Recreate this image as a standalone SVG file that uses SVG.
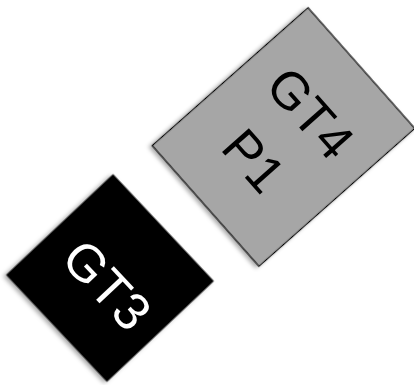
<svg xmlns="http://www.w3.org/2000/svg" width="414" height="385" viewBox="0 0 414 385">
  <defs>
    <filter id="sh" x="-20%" y="-20%" width="140%" height="140%">
      <feDropShadow dx="-1" dy="3" stdDeviation="2" flood-color="#000" flood-opacity="0.35"/>
    </filter>
  </defs>
  <style>
    .lbl { font-family: "Liberation Sans", Arial, sans-serif; font-size: 52px; text-anchor: middle; }
  </style>
  <rect width="414" height="385" fill="#ffffff"/>
  <g id="connectors"></g>
  <g id="gt4" transform="translate(283.5,137) rotate(48.5)">
    <rect x="-80.5" y="-104" width="161" height="208" fill="#a6a6a6" stroke="#000" stroke-width="1.2" filter="url(#sh)"/>
    <text class="lbl" x="0" y="-18" fill="#000">GT4</text>
    <text class="lbl" x="-2" y="56" fill="#000">P1</text>
  </g>
  <g id="gt3" transform="translate(110,278) rotate(46.7)">
    <rect x="-73.5" y="-73.5" width="147" height="147" fill="#000" filter="url(#sh)"/>
    <text class="lbl" x="3" y="25" fill="#fff">GT3</text>
  </g>
</svg>
